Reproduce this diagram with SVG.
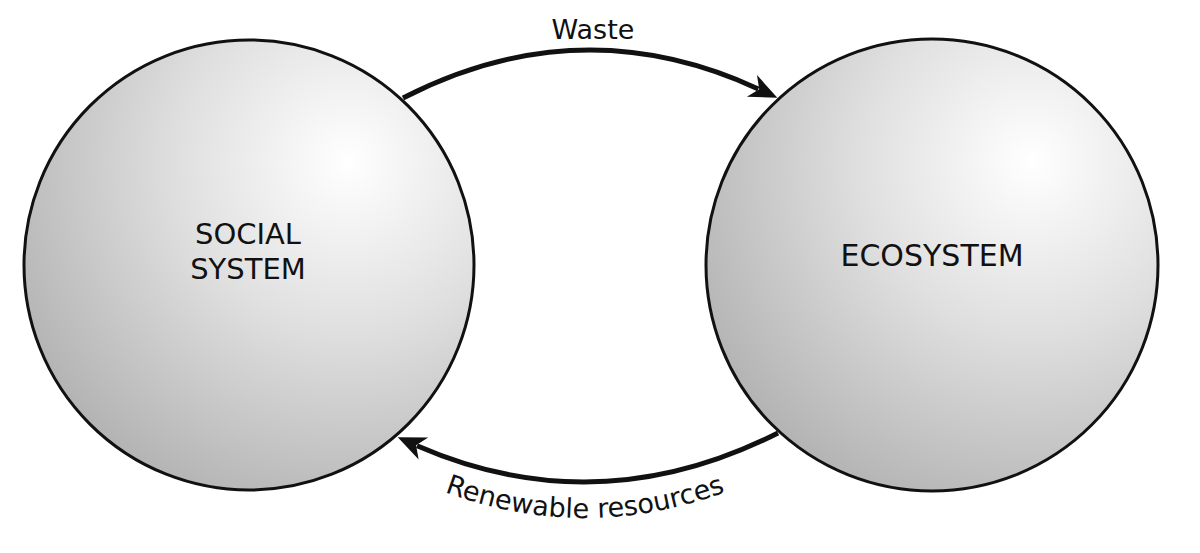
<svg xmlns="http://www.w3.org/2000/svg" width="1200" height="553" viewBox="0 0 1200 553">
<style>
.sphere{stroke:#111;stroke-width:3;fill:url(#sph)}
.lbl{font-family:"DejaVu Sans",sans-serif;font-size:29px;fill:#111;text-anchor:middle}
.eco{font-size:30px}
.cap{font-family:"DejaVu Sans",sans-serif;font-size:27px;fill:#111;text-anchor:middle}
.flow{fill:none;stroke:#111;stroke-width:5}
</style>
<defs>
<radialGradient id="sph" cx="0.72" cy="0.27" r="0.85" fx="0.72" fy="0.27">
<stop offset="0" stop-color="#ffffff"/>
<stop offset="0.45" stop-color="#dfdfdf"/>
<stop offset="1" stop-color="#b0b0b0"/>
</radialGradient>
<marker id="ah" markerUnits="userSpaceOnUse" orient="auto" refX="0" refY="0" markerWidth="40" markerHeight="40" overflow="visible">
<path d="M21,0 L-7,-12 L1,0 L-7,12 Z" fill="#111"/>
</marker>
<path id="tp" d="M420,482 Q585,554 750,482"/>
</defs>
<rect width="1200" height="553" fill="#fff"/>
<g id="social">
<circle class="sphere" cx="249" cy="265" r="225"/>
<text class="lbl" x="248" y="244">SOCIAL</text>
<text class="lbl" x="248" y="279">SYSTEM</text>
</g>
<g id="ecosystem">
<circle class="sphere" cx="932" cy="265" r="226"/>
<text class="lbl eco" x="932" y="266">ECOSYSTEM</text>
</g>
<g id="connectors">
<path class="flow" d="M403,98 Q580.65,6.8 758.3,88.9" marker-end="url(#ah)"/>
<text class="cap" x="593" y="39">Waste</text>
<path class="flow" d="M778,433 Q597.5,524.2 417,445.7" marker-end="url(#ah)"/>
<text class="cap"><textPath href="#tp" startOffset="50%">Renewable resources</textPath></text>
</g>
</svg>
